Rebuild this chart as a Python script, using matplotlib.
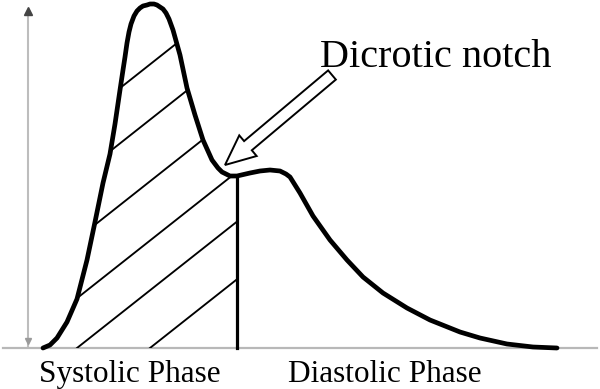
import numpy as np
import matplotlib
matplotlib.use("Agg")
import matplotlib.pyplot as plt
from matplotlib.patches import Polygon, FancyArrow

# pulse waveform (time, amplitude above the baseline)
t = [43, 50, 57, 67, 77, 87, 95, 103, 110, 115, 120, 123, 125, 127, 129,
     131, 134, 137, 140, 143, 147, 150, 154, 157, 160, 163, 166, 169, 173,
     180, 187, 195, 203, 212, 218, 222, 226, 230, 237, 250, 260, 270, 280,
     286, 290, 295, 300, 313, 330, 347, 363, 383, 407, 430, 440, 460, 480,
     507, 533, 557]
amp = [0, 3, 10, 26, 49, 88, 126, 165, 194, 224, 258, 278, 291, 305, 316,
       324, 332, 337, 340, 342, 343, 344, 344, 343, 341, 339, 335, 329, 318,
       293, 260, 233, 208, 188, 180, 176, 174, 172, 172, 175, 177, 178, 177,
       174, 171, 163, 155, 132, 108, 88, 71, 55, 40, 28, 24, 16, 10, 4, 1, 0]

notch_t = 237                      # end of systole
hatch_starts = [-209, -139, -61, 14, 77, 150]   # where each hatch line meets the baseline
hatch_slope = 0.79

labels = ["Systolic Phase", "Diastolic Phase"]
label_t = [39, 288]

t = np.array(t, dtype=float)
amp = np.array(amp, dtype=float)

fig = plt.figure(figsize=(6, 3.89), dpi=100)
ax = fig.add_axes([0, 0, 1, 1])
ax.set_xlim(0, 600)
ax.set_ylim(-41, 348)
ax.axis("off")

# baseline and amplitude arrow
ax.plot([3, 597], [0, 0], color="#b8b8b8", lw=1.6, zorder=1)
ax.plot([28, 28], [2, 336], color="#bdbdbd", lw=1.5, zorder=1)
ax.plot([28], [337], marker="^", ms=6, color="#444444", zorder=2)
ax.plot([28], [7], marker="v", ms=5, color="#9a9a9a", zorder=2)

# hatched systolic area, clipped to the area under the curve
m = t <= notch_t
notch_amp = np.interp(notch_t, t, amp)
poly_t = np.concatenate([t[m], [notch_t, notch_t]])
poly_a = np.concatenate([amp[m], [notch_amp, 0]])
clip = Polygon(np.column_stack([poly_t, poly_a]), closed=True,
               facecolor="none", edgecolor="none", transform=ax.transData)
ax.add_patch(clip)
for c in hatch_starts:
    xs = np.array([c, c + 500])
    ln, = ax.plot(xs, hatch_slope * (xs - c), color="black", lw=1.35, zorder=3)
    ln.set_clip_path(clip)

ax.plot([notch_t, notch_t], [0, notch_amp], color="black", lw=2.3, zorder=4)
ax.plot(t, amp, color="black", lw=3.4, solid_capstyle="round",
        solid_joinstyle="round", zorder=5)

# dicrotic notch pointer
arrow = FancyArrow(332, 273, -107, -90, width=12, head_width=27, head_length=30,
                   length_includes_head=True, facecolor="white",
                   edgecolor="black", lw=1.4, zorder=6)
ax.add_patch(arrow)
ax.text(320, 281, "Dicrotic notch", family="Liberation Serif", fontsize=29,
        ha="left", va="baseline", color="black")

for lab, x in zip(labels, label_t):
    ax.text(x, -34, lab, family="Liberation Serif", fontsize=22.5,
            ha="left", va="baseline", color="black")

fig.savefig("out.png", dpi=100, facecolor="white")
